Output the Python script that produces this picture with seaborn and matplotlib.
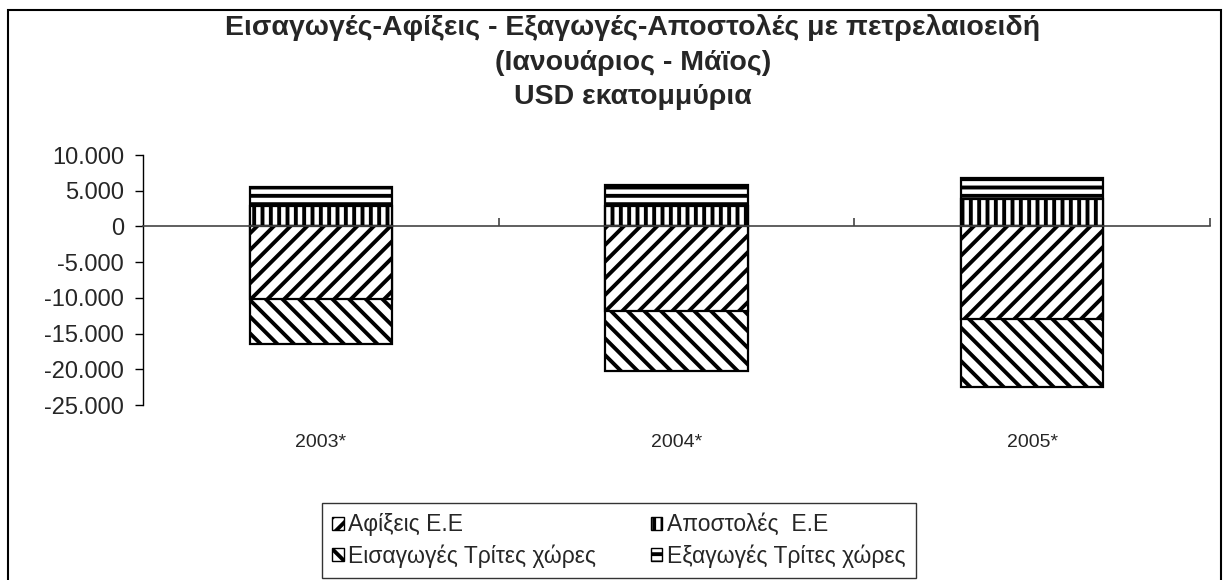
import matplotlib
matplotlib.use("Agg")
import matplotlib.pyplot as plt
import seaborn as sns
import pandas as pd
from matplotlib.patches import Patch, Rectangle
from matplotlib.ticker import FuncFormatter

# Data (USD million)
years = ["2003*", "2004*", "2005*"]
afixeis_ee = [-10100, -11900, -12900]        # Αφίξεις Ε.Ε
apostoles_ee = [2800, 2900, 3900]            # Αποστολές Ε.Ε
eisagoges_tx = [-6400, -8400, -9600]         # Εισαγωγές Τρίτες χώρες
exagoges_tx = [2750, 2900, 2900]             # Εξαγωγές Τρίτες χώρες

labels = ["Αφίξεις Ε.Ε", "Αποστολές  Ε.Ε", "Εισαγωγές Τρίτες χώρες", "Εξαγωγές Τρίτες χώρες"]
hatches = ["//", "||", "\\\\", "--"]

sns.set_style("white")
plt.rcParams["font.family"] = ["Liberation Sans", "DejaVu Sans"]
plt.rcParams["hatch.linewidth"] = 2.8
plt.rcParams["hatch.color"] = "black"

df = pd.DataFrame({"year": years,
                   "afixeis": afixeis_ee, "apostoles": apostoles_ee,
                   "eisagoges": eisagoges_tx, "exagoges": exagoges_tx})
df["pos_total"] = df["apostoles"] + df["exagoges"]
df["neg_total"] = df["afixeis"] + df["eisagoges"]

fig = plt.figure(figsize=(12.29, 5.80), dpi=100)
ax = fig.add_axes([143 / 1229, 1 - 405 / 580, (1210 - 143) / 1229, 250 / 580])

bar_kw = dict(width=0.4, edgecolor="black", linewidth=1.6, color="white")
# outer segments first, inner segments drawn on top
sns.barplot(data=df, x="year", y="pos_total", hatch=hatches[3], ax=ax, **bar_kw)
sns.barplot(data=df, x="year", y="apostoles", hatch=hatches[1], ax=ax, **bar_kw)
sns.barplot(data=df, x="year", y="neg_total", hatch=hatches[2], ax=ax, **bar_kw)
sns.barplot(data=df, x="year", y="afixeis", hatch=hatches[0], ax=ax, **bar_kw)

ax.set_ylim(-25000, 10000)
ax.set_xlim(-0.5, 2.5)
ax.set_yticks(range(-25000, 10001, 5000))
ax.yaxis.set_major_formatter(FuncFormatter(lambda v, p: f"{int(v):,}".replace(",", ".")))
ax.tick_params(axis="y", direction="out", length=5.5, width=1, color="black",
               labelsize=17, left=True, pad=8)
ax.set_xlabel("")
ax.set_ylabel("")

# zero line / category axis with ticks between categories
for s in ["top", "right"]:
    ax.spines[s].set_visible(False)
ax.spines["left"].set_color("black")
ax.spines["left"].set_linewidth(1)
ax.spines["bottom"].set_position(("data", 0))
ax.spines["bottom"].set_color("#444444")
ax.spines["bottom"].set_linewidth(1.2)
ax.set_xticks([0.5, 1.5, 2.5])
ax.set_xticklabels([])
ax.tick_params(axis="x", direction="in", length=6, width=1.2, color="#444444", bottom=True)

sec = ax.secondary_xaxis("bottom")
sec.set_xticks(range(len(years)))
sec.set_xticklabels(years)
sec.tick_params(length=0, labelsize=14, pad=21)
sec.spines["bottom"].set_visible(False)

fig.text(0.515, 1 - 62 / 580, "Εισαγωγές-Αφίξεις - Εξαγωγές-Αποστολές με πετρελαιοειδή\n(Ιανουάριος - Μάϊος)\nUSD εκατομμύρια",
         ha="center", va="center", fontsize=20.5, fontweight="bold", linespacing=1.42)

handles = [Patch(facecolor="white", edgecolor="black", hatch=h, label=l)
           for h, l in zip(hatches, labels)]
order = [0, 2, 1, 3]
leg = fig.legend([handles[i] for i in order], [labels[i] for i in order],
                 ncol=2, loc="lower left", mode="expand",
                 bbox_to_anchor=(322 / 1229, 2 / 580, 594 / 1229, 77 / 580),
                 bbox_transform=fig.transFigure, borderaxespad=0,
                 fontsize=16.5, frameon=True, fancybox=False,
                 handlelength=0.5, handleheight=0.5, handletextpad=0.2,
                 labelspacing=0.35, borderpad=0.45)
leg.get_frame().set_edgecolor("black")
leg.get_frame().set_linewidth(1)

fig.patches.append(Rectangle((8 / 1229, -0.05), 1213 / 1229, 1 - 10 / 580 + 0.05,
                             transform=fig.transFigure, fill=False,
                             edgecolor="black", linewidth=1.5))

fig.savefig("out.png", dpi=100)
